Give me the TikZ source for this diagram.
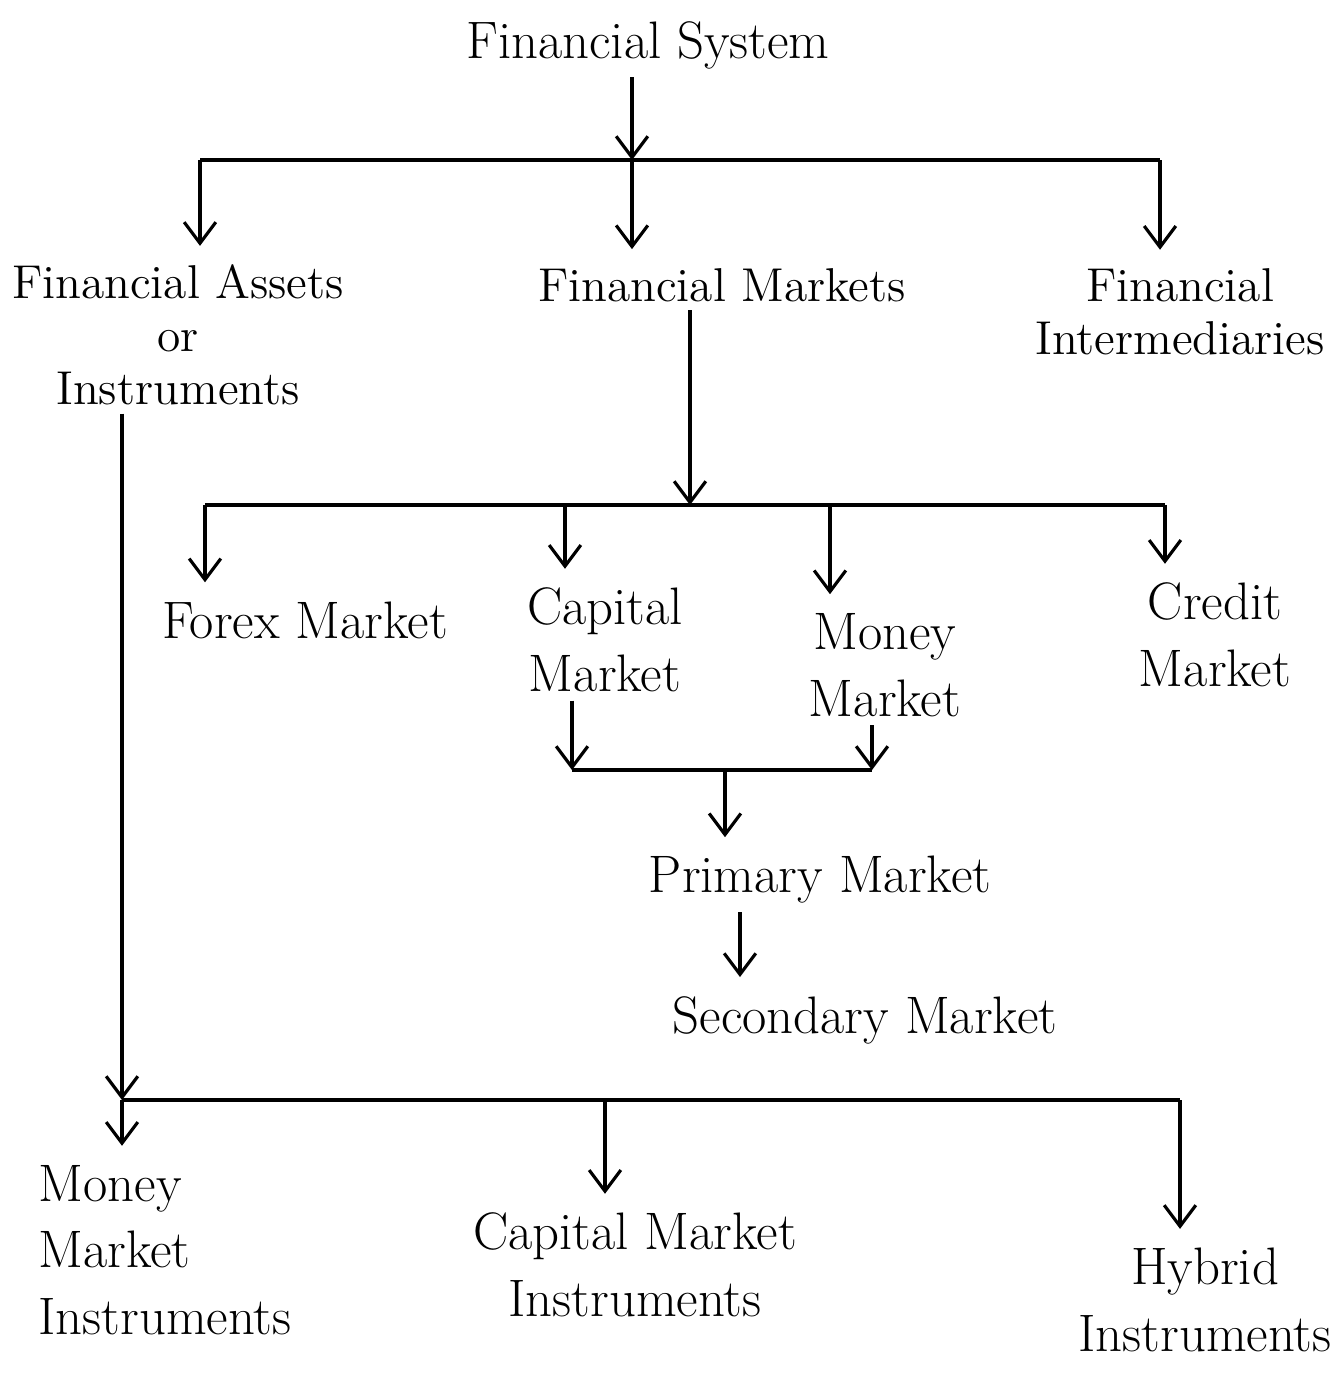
\documentclass[tikz,border=0pt]{standalone}
\usetikzlibrary{arrows.meta,positioning,calc}
\tikzset{every picture/.style={line width=0.9pt}}
\tikzset{
    txt/.style={inner sep=2pt, font=\fontsize{15}{19}\selectfont},
    small/.style={font=\fontsize{13.5}{15}\selectfont},
    arr/.style={-{Straight Barb[length=6pt,width=9pt]}, shorten >=3pt},
}

\begin{document}
\begin{tikzpicture}[x=0.01cm,y=-0.01cm]
    \useasboundingbox (0,0) rectangle (1338,1375);
    % nodes
    \node[txt] (sys) at (648,45) {Financial System};
    \node[txt, small, align=center] (assets) at (178,335) {Financial Assets\\or\\Instruments};
    \node[txt, small] (mkts) at (722,285) {Financial Markets};
    \node[txt, small, align=center] (inter) at (1180,312) {Financial\\Intermediaries};
    \node[txt] (forex) at (305,620) {Forex Market};
    \node[txt, align=center] (cap) at (605,640) {Capital\\Market};
    \node[txt, align=center] (money) at (885,665) {Money\\Market};
    \node[txt, align=center] (credit) at (1215,635) {Credit\\Market};
    \node[txt] (prim) at (820,880) {Primary Market};
    \node[txt] (sec) at (865,1020) {Secondary Market};
    \node[txt, align=left] (mmi) at (165,1250) {Money\\Market\\Instruments};
    \node[txt, align=center] (cmi) at (635,1265) {Capital Market\\Instruments};
    \node[txt, align=center] (hyb) at (1205,1300) {Hybrid\\Instruments};
    % junctions
    \coordinate (b1l) at (200,160);
    \coordinate (b1m) at (632,160);
    \coordinate (b1r) at (1160,160);
    \coordinate (b2l) at (205,505);
    \coordinate (b2a) at (565,505);
    \coordinate (b2m) at (690,505);
    \coordinate (b2b) at (830,505);
    \coordinate (b2r) at (1165,505);
    \coordinate (b3l) at (572,770);
    \coordinate (b3m) at (725,770);
    \coordinate (b3r) at (872,770);
    \coordinate (p1) at (740,0);
    \coordinate (b4l) at (122,1100);
    \coordinate (b4m) at (605,1100);
    \coordinate (b4r) at (1180,1100);
    % first level
    \draw[arr, shorten >=0pt] (b1m |- sys.south) -- (b1m);
    \draw (b1l) -- (b1r);
    \draw[arr] (b1l) -- (b1l |- assets.north);
    \draw[arr] (b1m) -- (b1m |- mkts.north);
    \draw[arr] (b1r) -- (b1r |- inter.north);
    % markets
    \draw[arr, shorten >=0pt] (b2m |- mkts.south) -- (b2m);
    \draw (b2l) -- (b2r);
    \draw[arr] (b2l) -- (b2l |- forex.north);
    \draw[arr] (b2a) -- (b2a |- cap.north);
    \draw[arr] (b2b) -- (b2b |- money.north);
    \draw[arr] (b2r) -- (b2r |- credit.north);
    % capital and money market
    \draw[arr, shorten >=0pt] (b3l |- cap.south) -- (b3l);
    \draw[arr, shorten >=0pt] (b3r |- money.south) -- (b3r);
    \draw (b3l) -- (b3r);
    \draw[arr] (b3m) -- (b3m |- prim.north);
    \draw[arr] (prim.south -| p1) -- (p1 |- sec.north);
    % instruments
    \draw[arr, shorten >=0pt] (b4l |- assets.south) -- (b4l);
    \draw (b4l) -- (b4r);
    \draw[arr] (b4l) -- (b4l |- mmi.north);
    \draw[arr] (b4m) -- (b4m |- cmi.north);
    \draw[arr] (b4r) -- (b4r |- hyb.north);
\end{tikzpicture}
\end{document}
